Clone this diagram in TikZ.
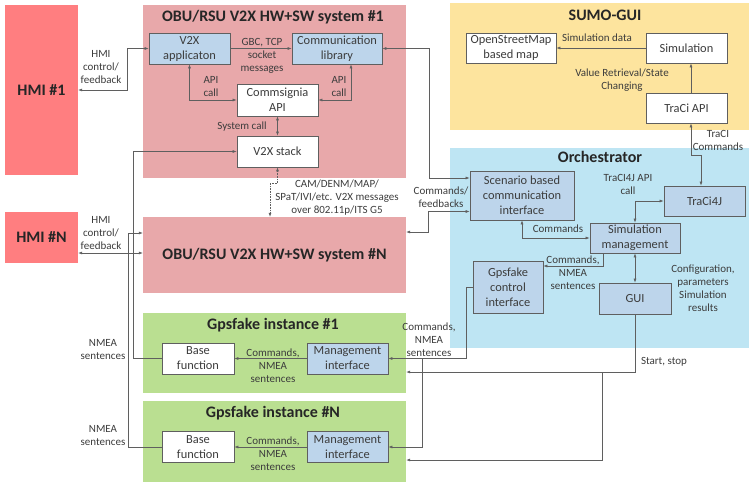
\documentclass[tikz,border=0pt]{standalone}
\usepackage{fontspec}
\setmainfont{Carlito}
\usetikzlibrary{arrows.meta}
\definecolor{hmired}{RGB}{255,126,128}
\definecolor{obupink}{RGB}{232,168,170}
\definecolor{sumoyellow}{RGB}{253,228,158}
\definecolor{orchblue}{RGB}{190,229,243}
\definecolor{gpsgreen}{RGB}{186,223,145}
\definecolor{boxblue}{RGB}{189,213,235}
\definecolor{boxedge}{RGB}{95,95,95}
\definecolor{linegray}{RGB}{95,95,95}
\definecolor{txtgray}{RGB}{60,60,60}
\begin{document}
\begin{tikzpicture}[x=1pt,y=-1pt,
  >={Latex[length=4pt,width=3pt]},
  every node/.style={text=txtgray, align=center},
  grp/.style={inner sep=0pt, draw=none},
  whitebox/.style={draw=boxedge, line width=0.7pt, fill=white, inner sep=0pt,
    font=\fontsize{12.4}{15}\selectfont},
  bluebox/.style={whitebox, fill=boxblue},
  ttl/.style={font=\fontsize{16}{19}\selectfont\bfseries, text=black!85},
  lbl/.style={font=\fontsize{11}{13}\selectfont, inner sep=0pt},
  wire/.style={draw=linegray, line width=0.6pt}]
\useasboundingbox (0,0) rectangle (749,484);

\node[grp, fill=hmired, minimum width=73, minimum height=170] (hmi1) at (41.5,90) {};
\node[ttl] (hmi1text) at (41.5,90) {HMI \#1};
\node[grp, fill=hmired, minimum width=73, minimum height=51] (hmiN) at (41.5,237.5) {};
\node[ttl] (hmiNtext) at (41.5,237.5) {HMI \#N};

\node[grp, fill=obupink, minimum width=263, minimum height=173] (obu1) at (274.5,91.5) {};
\node[ttl] (obu1title) at (273,17) {OBU/RSU V2X HW+SW system \#1};
\node[bluebox, minimum width=81, minimum height=31] (v2xapp) at (189.5,48.5) {V2X\\applicaton};
\node[bluebox, minimum width=90, minimum height=31] (commlib) at (337,48.5) {Communication\\library};
\node[whitebox, minimum width=81, minimum height=32] (api) at (277.5,100) {Commsignia\\API};
\node[whitebox, minimum width=81, minimum height=31] (stack) at (277.5,151.5) {V2X stack};

\node[grp, fill=obupink, minimum width=263, minimum height=76] (obuN) at (274.5,255) {};
\node[ttl] (obuNtitle) at (274.5,255) {OBU/RSU V2X HW+SW system \#N};

\node[grp, fill=sumoyellow, minimum width=299, minimum height=127] (sumo) at (599.5,66.5) {};
\node[ttl] (sumotitle) at (605,15) {SUMO-GUI};
\node[whitebox, minimum width=90, minimum height=30] (osm) at (511,48) {OpenStreetMap\\based map};
\node[whitebox, minimum width=81, minimum height=30] (sim) at (686.5,48) {Simulation};
\node[whitebox, minimum width=81, minimum height=30] (traci) at (686.5,108) {TraCi API};

\node[grp, fill=orchblue, minimum width=299, minimum height=200] (orch) at (599.5,248) {};
\node[ttl] (orchtitle) at (600,157) {Orchestrator};
\node[bluebox, minimum width=104, minimum height=49] (scen) at (522,195.5) {Scenario based\\communication\\interface};
\node[bluebox, minimum width=81, minimum height=30] (traci4j) at (704.5,201) {TraCi4J};
\node[bluebox, minimum width=90, minimum height=30] (simmgmt) at (635,238) {Simulation\\management};
\node[bluebox, minimum width=70, minimum height=52] (gpsctl) at (508,287) {Gpsfake\\control\\interface};
\node[bluebox, minimum width=72, minimum height=31] (gui) at (635,298.5) {GUI};

\node[grp, fill=gpsgreen, minimum width=263, minimum height=80] (gps1) at (274.5,353) {};
\node[ttl] (gps1title) at (273,325) {Gpsfake instance \#1};
\node[whitebox, minimum width=72, minimum height=31] (base1) at (198,358.5) {Base\\function};
\node[bluebox, minimum width=81, minimum height=31] (mgmt1) at (347.5,358.5) {Management\\interface};

\node[grp, fill=gpsgreen, minimum width=263, minimum height=81] (gpsN) at (274.5,441.5) {};
\node[ttl] (gpsNtitle) at (273,413) {Gpsfake instance \#N};
\node[whitebox, minimum width=72, minimum height=31] (baseN) at (198,447) {Base\\function};
\node[bluebox, minimum width=81, minimum height=31] (mgmtN) at (347.5,447) {Management\\interface};

\draw[wire,<->] (hmi1.east) -- ++(49,0) |- (v2xapp.west);
\node[lbl] (hmilbl1) at (101,67) {HMI\\control/\\feedback};
\draw[wire,->] (v2xapp.east) -- (commlib.west);
\node[lbl] (gbclbl) at (262,56) {GBC, TCP\\socket\\messages};
\draw[wire,<->] (v2xapp.south) |- (api.west);
\node[lbl] (apilbl1) at (211,87) {API\\call};
\draw[wire,<->] ([xshift=14pt]commlib.south) |- (api.east);
\node[lbl] (apilbl2) at (339,87) {API\\call};
\draw[wire,<->] (api.south) -- (stack.north);
\node[lbl] (syslbl) at (242,127) {System call};
\draw[wire,<->,densely dotted] (stack.south) -- ++(0,16) -| ([xshift=-4.5pt]obuN.north);
\node[lbl] (camlbl) at (337,198) {CAM/DENM/MAP/\\SPaT/IVI/etc. V2X messages\\over 802.11p/ITS G5};

\coordinate (hmiNport) at ([yshift=-15.5pt]hmiN.east);
\draw[wire,<->] (hmiNport) -- (hmiNport -| obuN.west);
\node[lbl] (hmilblN) at (101,233) {HMI\\control/\\feedback};
\draw[wire,->] (base1.west) -- ++(-28,0) |- (stack.west);
\node[lbl] (nmealbl1) at (103,350) {NMEA\\sentences};
\draw[wire,->] (baseN.west) -- ++(-33,0) |- ([yshift=22pt]obuN.west);
\node[lbl] (nmealblN) at (103,436) {NMEA\\sentences};

\draw[wire,<->] (commlib.east) -- ++(47,0) |- ([yshift=17.5pt]scen.west);
\draw[wire,<->] ([yshift=-16pt]scen.west) -- ++(-41,0) |- ([yshift=23pt]obuN.east);
\node[lbl] (cmdfblbl) at (441,197) {Commands/\\feedbacks};

\draw[wire,->] (sim.west) -- (osm.east);
\node[lbl] (simdatalbl) at (597,38) {Simulation data};
\draw[wire,->] ([xshift=4.5pt]traci.north) -- ([xshift=4.5pt]sim.south);
\node[lbl] (valuelbl) at (622,80) {Value Retrieval/State\\Changing};
\draw[wire,<->] ([xshift=4.5pt]traci.south) -- ++(0,32) -| ([xshift=-3.5pt]traci4j.north);
\node[lbl] (tracilbl) at (718,140) {TraCI\\Commands};

\draw[wire,<->] (simmgmt.north) |- (traci4j.west);
\node[lbl] (traci4jlbl) at (628,184) {TraCI4J API\\call};
\draw[wire,<->] (scen.south) |- (simmgmt.west);
\node[lbl] (cmdlbl) at (558,229) {Commands};
\draw[wire,->] ([xshift=-32pt]simmgmt.south) |- ([yshift=21pt]gpsctl.east);
\node[lbl] (nmealbl2) at (573,273) {Commands,\\NMEA\\sentences};
\draw[wire,<->] (simmgmt.south) -- (gui.north);
\node[lbl] (conflbl) at (703,288) {Configuration,\\parameters\\Simulation\\results};

\draw[wire,->] (gpsctl.west) -- ++(-6,0) |- (mgmt1.east);
\coordinate (gpsfork) at (422,358.5);
\draw[wire,->] (gpsfork) |- (mgmtN.east);
\node[lbl] (nmealbl3) at (429,340) {Commands,\\NMEA\\sentences};
\draw[wire,->] (gui.south) |- ([yshift=-19pt]gps1.east);
\coordinate (guifork) at (602,372);
\draw[wire,->] (guifork) |- ([yshift=-18.5pt]gpsN.east);
\node[lbl] (startlbl) at (664,362) {Start, stop};

\draw[wire,->] (mgmt1.west) -- (base1.east);
\node[lbl] (baselbl1) at (273,366) {Commands,\\NMEA\\sentences};
\draw[wire,->] (mgmtN.west) -- (baseN.east);
\node[lbl] (baselblN) at (273,454) {Commands,\\NMEA\\sentences};
\end{tikzpicture}
\end{document}
